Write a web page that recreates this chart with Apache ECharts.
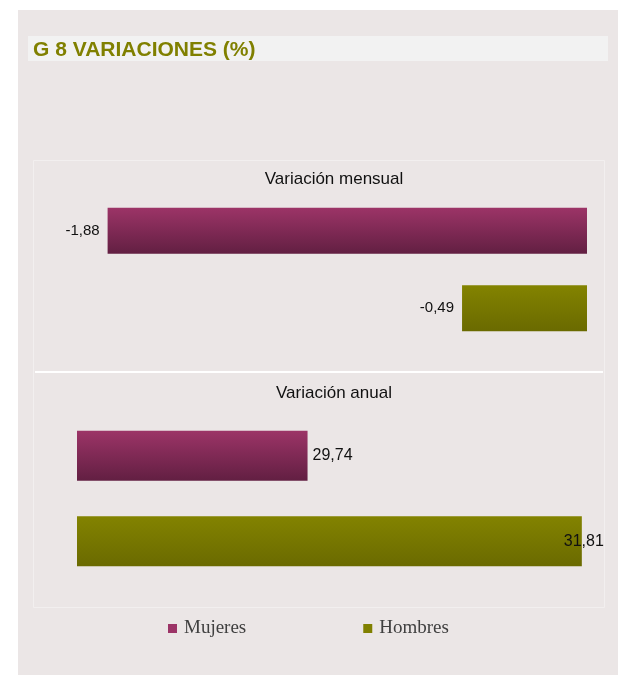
<!DOCTYPE html>
<html><head><meta charset="utf-8">
<script src="https://cdn.jsdelivr.net/npm/echarts@6/dist/echarts.min.js"></script>
<style>html,body{margin:0;padding:0;background:#fff}#c{width:618px;height:675px}</style>
</head><body><div id="c"></div>
<script>
const categories = ['Mujeres', 'Hombres'];
const mensual = [-1.88, -0.49];
const anual = [29.74, 31.81];
const panelTitles = ['Variación mensual', 'Variación anual'];
const chartTitle = 'G 8 VARIACIONES (%)';

const fmt = v => String(v.toFixed(2)).replace('.', ',');
const grad = (a, b) => new echarts.graphic.LinearGradient(0, 0, 0, 1, [{offset: 0, color: a}, {offset: 1, color: b}]);
const colM = grad('#9C3467', '#621F42');
const colH = grad('#838300', '#6A6A00');
const SANS = '"Liberation Sans", Arial, sans-serif';

function only(arr, i) { return arr.map((v, j) => j === i ? v : null); }

const chart = echarts.init(document.getElementById('c'), null, {renderer: 'canvas'});
chart.setOption({
  backgroundColor: '#ffffff',
  animation: false,
  graphic: [
    {type: 'rect', silent: true, z: -10, shape: {x: 18, y: 10, width: 600, height: 665}, style: {fill: '#EBE6E6'}},
    {type: 'rect', silent: true, z: -9, shape: {x: 28, y: 36, width: 580, height: 25}, style: {fill: '#F2F2F2'}},
    {type: 'text', silent: true, x: 33, y: 50, style: {text: chartTitle, fill: '#808000', font: 'bold 21px ' + SANS, verticalAlign: 'middle'}},
    {type: 'rect', silent: true, z: -8, shape: {x: 33.5, y: 160.5, width: 571, height: 447}, style: {fill: 'none', stroke: '#F2EFEF', lineWidth: 1}},
    {type: 'line', silent: true, z: -7, shape: {x1: 35, y1: 372, x2: 603, y2: 372}, style: {stroke: '#FFFFFF', lineWidth: 2}},
    {type: 'text', silent: true, x: 334, y: 179, style: {text: panelTitles[0], fill: '#111', font: '17px ' + SANS, align: 'center', verticalAlign: 'middle'}},
    {type: 'text', silent: true, x: 334, y: 393, style: {text: panelTitles[1], fill: '#111', font: '17px ' + SANS, align: 'center', verticalAlign: 'middle'}}
  ],
  legend: {
    data: [
      {name: 'Mujeres', itemStyle: {color: '#9C3467'}},
      {name: 'Hombres', itemStyle: {color: '#808000'}}
    ],
    left: 163, top: 614,
    icon: 'rect', itemWidth: 9, itemHeight: 9, itemGap: 117,
    textStyle: {fontFamily: '"Liberation Serif", "Times New Roman", serif', fontSize: 19, color: '#404040', padding: [0, 0, 0, 2]}
  },
  grid: [
    {left: 77, right: 31, top: 192, height: 155},
    {left: 77, right: 11, top: 413, height: 171}
  ],
  xAxis: [
    {gridIndex: 0, type: 'value', min: -2, max: 0, show: false},
    {gridIndex: 1, type: 'value', min: 28, max: 32, show: false}
  ],
  yAxis: [
    {gridIndex: 0, type: 'category', data: categories, inverse: true, show: false},
    {gridIndex: 1, type: 'category', data: categories, inverse: true, show: false}
  ],
  series: [
    {name: 'Mujeres', type: 'bar', xAxisIndex: 0, yAxisIndex: 0, data: only(mensual, 0), barWidth: 46, barGap: '-100%',
      itemStyle: {color: colM}, label: {show: true, position: 'left', distance: 8, formatter: p => fmt(p.value), color: '#111', fontSize: 15, fontFamily: SANS}},
    {name: 'Hombres', type: 'bar', xAxisIndex: 0, yAxisIndex: 0, data: only(mensual, 1), barWidth: 46, barGap: '-100%',
      itemStyle: {color: colH}, label: {show: true, position: 'left', distance: 8, formatter: p => fmt(p.value), color: '#111', fontSize: 15, fontFamily: SANS}},
    {name: 'Mujeres', type: 'bar', xAxisIndex: 1, yAxisIndex: 1, data: only(anual, 0), barWidth: 50, barGap: '-100%',
      itemStyle: {color: colM}, label: {show: true, position: 'right', distance: 5, formatter: p => fmt(p.value), color: '#111', fontSize: 16, fontFamily: SANS}},
    {name: 'Hombres', type: 'bar', xAxisIndex: 1, yAxisIndex: 1, data: only(anual, 1), barWidth: 50, barGap: '-100%',
      itemStyle: {color: colH}, label: {show: true, position: 'right', distance: 5, offset: [-23, 0], formatter: p => fmt(p.value), color: '#111', fontSize: 16, fontFamily: SANS}}
  ]
});
</script></body></html>
